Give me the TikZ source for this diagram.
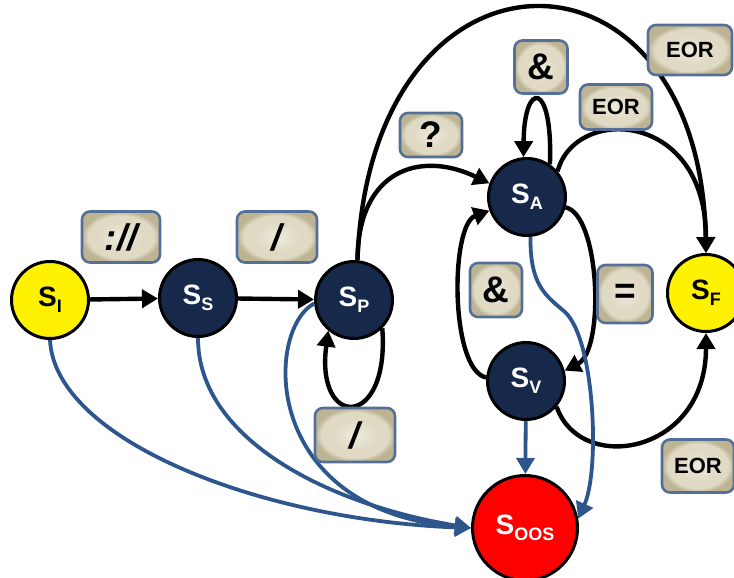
\documentclass[tikz,border=0pt]{standalone}
\usepackage{fontspec}
\setmainfont{Liberation Sans}
\usetikzlibrary{arrows.meta}

\definecolor{stnavy}{RGB}{22,41,74}
\definecolor{stblue}{RGB}{44,86,140}
\definecolor{boxrim}{RGB}{84,112,152}
\definecolor{boxin}{RGB}{238,234,220}
\definecolor{boxmid}{RGB}{224,218,197}
\definecolor{boxout}{RGB}{190,180,148}

% flat centre, darker rim
\pgfdeclareradialshading{boxglow}{\pgfpoint{0bp}{0bp}}{%
  color(0bp)=(boxin); color(14bp)=(boxmid); color(21bp)=(boxmid); color(25bp)=(boxout); color(50bp)=(boxout)}

\newcommand{\stlabel}[1]{S\raisebox{-0.4ex}{\fontsize{18}{18}\selectfont #1}}

\begin{document}
\begin{tikzpicture}[
    x=1pt, y=-1pt,
    >={Triangle[length=16pt,width=18pt]},
    font=\fontsize{28}{28}\selectfont\bfseries,
    state/.style={circle, draw=black, line width=3pt, minimum size=77pt, inner sep=0pt},
    mid/.style={state, fill=stnavy, text=white},
    ends/.style={state, fill=yellow},
    oos/.style={state, fill=red, text=white, minimum size=105pt},
    tr/.style={->, line width=4.4pt},
    fail/.style={->, line width=3.8pt, draw=stblue},
    sym/.style={draw=boxrim, line width=2.6pt, rounded corners=8pt, shade, shading=boxglow,
                inner sep=0pt, font=\fontsize{37}{37}\selectfont\bfseries},
    eor/.style={sym, font=\fontsize{22}{22}\selectfont\bfseries},
  ]
    \useasboundingbox (0,0) rectangle (734,578);

    \node[ends] (si)   at (50,300)  {\stlabel{I}};
    \node[mid]  (ss)   at (198,298) {\stlabel{S}};
    \node[mid]  (sp)   at (354,300) {\stlabel{P}};
    \node[mid]  (sa)   at (527,197) {\stlabel{A}};
    \node[mid]  (sv)   at (526,381) {\stlabel{V}};
    \node[oos]  (soos) at (525,528) {\stlabel{OOS}};
    \node[ends] (sf)   at (706,293) {\stlabel{F}};

    \foreach \a/\b in {si/ss, ss/sp} \draw[tr] (\a) -- (\b);

    % path and parameter loops
    \draw[tr] (sp.-45) .. controls (390,430) and (315,430) .. (sp.-130);
    \draw[tr] (sa.55) .. controls (553,80) and (524,80) .. (sa.95);

    \draw[tr] (sp.85) .. controls (358,170) and (420,150) .. (sa.160);
    \draw[tr] (sp.85) .. controls (370,-75) and (700,-75) .. (sf.north);
    \draw[tr] (sa.40) .. controls (575,105) and (706,110) .. (sf.north);
    \draw[tr] (sa.-15) .. controls (600,215) and (605,350) .. (sv.15);
    \draw[tr] (sv.175) .. controls (450,370) and (450,225) .. (sa.200);
    \draw[tr] (sv.-40) .. controls (580,475) and (706,455) .. (sf.south);

    % out-of-spec transitions
    \draw[fail] (si.south) .. controls (55,440) and (260,520) .. (soos.west);
    \draw[fail] (ss.south) .. controls (198,440) and (330,505) .. (soos.west);
    \draw[fail] (sp.185) .. controls (265,330) and (260,510) .. (soos.west);
    \draw[fail] (sa.-85) .. controls (530,285) and (545,295) .. (565,312)
                .. controls (595,340) and (600,470) .. (soos.10);
    \draw[fail] (sv) -- (soos);

    \node[sym, minimum width=78pt, minimum height=51pt] (lblscheme) at (121,237) {\itshape :\kern1pt//};
    \node[sym, minimum width=80pt, minimum height=51pt] (lblslash)  at (277,237) {\itshape /};
    \node[sym, minimum width=62pt, minimum height=44pt] (lblquery)  at (431,135) {?};
    \node[sym, minimum width=53pt, minimum height=53pt] (lblamptop) at (541,67)  {\&};
    \node[eor, minimum width=72pt, minimum height=45pt] (lbleorsa)  at (616,107) {EOR};
    \node[eor, minimum width=84pt, minimum height=50pt] (lbleorsp)  at (690,50)  {EOR};
    \node[sym, minimum width=52pt, minimum height=54pt] (lblampmid) at (496,290) {\&};
    \node[sym, minimum width=55pt, minimum height=58pt] (lblequals) at (625,294) {=};
    \node[sym, minimum width=80pt, minimum height=54pt] (lblloop)   at (355,435) {\itshape /};
    \node[eor, minimum width=72pt, minimum height=53pt] (lbleorsv)  at (698,466) {EOR};
  \end{tikzpicture}
\end{document}
